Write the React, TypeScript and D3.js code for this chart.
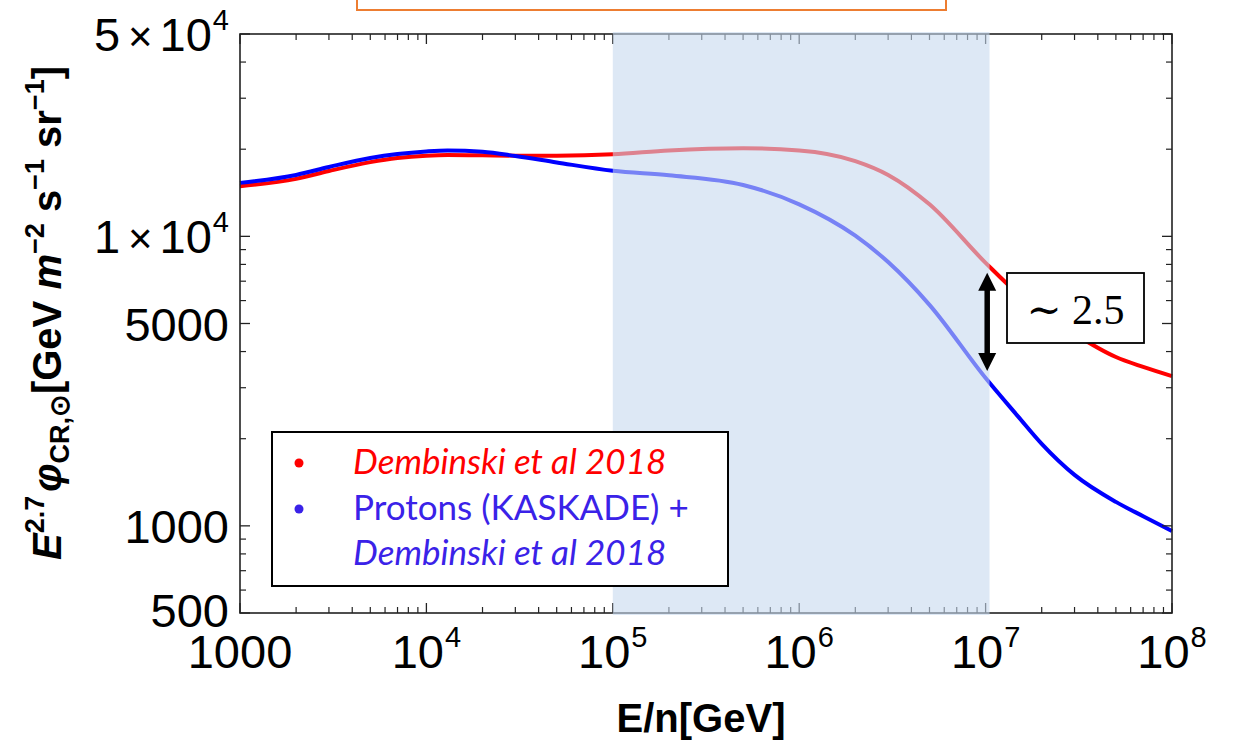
import React from 'react';
import * as d3 from 'd3';

// Energy per nucleon grid (GeV) and E^2.7-weighted flux for both models
const energies = [
  1e3, 2e3, 3e3, 5e3, 7e3, 1e4, 1.3e4, 2e4, 3e4, 5e4, 1e5, 2e5, 5e5, 1e6, 2e6, 3e6, 5e6, 1e7, 1.5e7, 2e7, 3e7, 5e7, 7e7, 1e8,
];
const dembinski = [
  14900, 15800, 16820, 18050, 18650, 19000, 19100, 19050, 19000, 19000, 19200, 19800, 20150, 19800, 18200, 16300, 12900, 8100, 6320, 5480, 4600, 3830, 3540, 3290,
];
const protonsKascade = [
  15300, 16300, 17360, 18650, 19250, 19650, 19800, 19600, 18950, 18000, 16850, 16250, 15050, 12900, 10050, 8150, 5800, 3240, 2380, 1920, 1500, 1210, 1080, 960,
];

// Axis ticks
const xMajor = [1e3, 1e4, 1e5, 1e6, 1e7, 1e8];
const xMajorLabels = [
  { base: '1000', exp: '' },
  { base: '10', exp: '4' },
  { base: '10', exp: '5' },
  { base: '10', exp: '6' },
  { base: '10', exp: '7' },
  { base: '10', exp: '8' },
];
const yMajor = [500, 1000, 5000, 1e4, 5e4];
const yMajorLabels = [
  { mant: '', base: '500', exp: '' },
  { mant: '', base: '1000', exp: '' },
  { mant: '', base: '5000', exp: '' },
  { mant: '1', base: '10', exp: '4' },
  { mant: '5', base: '10', exp: '4' },
];

// Highlighted energy window and ratio annotation
const bandRange = [1e5, 1.05e7];
const ratioAt = 1.02e7;
const ratioLabel = '∼ 2.5';

const legendItems = [
  { lines: [{ text: 'Dembinski et al 2018', italic: true }], color: '#ff0000' },
  {
    lines: [
      { text: 'Protons (KASKADE) +', italic: false },
      { text: 'Dembinski et al 2018', italic: true },
    ],
    color: '#3a22e8',
  },
];

const W = 1237;
const H = 745;
const left = 240;
const right = 1172;
const top = 34;
const bottom = 613;

export default function App() {
  const x = d3.scaleLog().domain([1e3, 1e8]).range([left, right]);
  const y = d3.scaleLog().domain([500, 5e4]).range([bottom, top]);

  const line = d3
    .line<number>()
    .x((_, i) => x(energies[i]))
    .y((d) => y(d))
    .curve(d3.curveMonotoneX);

  const xMinor: number[] = [];
  for (let d = 3; d < 8; d++) {
    for (let k = 2; k <= 9; k++) xMinor.push(k * Math.pow(10, d));
  }
  const yMinor: number[] = [];
  [100, 1000, 10000].forEach((dec) => {
    for (let k = 1; k <= 9; k++) {
      const v = k * dec;
      if (v > 500 && v < 5e4 && !yMajor.includes(v)) yMinor.push(v);
    }
  });

  const major = 10;
  const minor = 6;
  const frameColor = '#222';
  const tickFont = 'Liberation Sans, Arial, sans-serif';

  const ri = energies.indexOf(1e7);
  const arrowX = x(ratioAt);
  const arrowTop = y(dembinski[ri]) + 10;
  const arrowBot = y(protonsKascade[ri]) - 7;

  const legendX = 272;
  const legendY = 432;
  const legendW = 456;
  const legendH = 154;

  return (
    <svg width={W} height={H} style={{ position: 'absolute', left: 0, top: 0, background: '#fff' }}>
      {/* orange frame peeking in at the top */}
      <rect x={357} y={-4} width={589} height={14} fill="none" stroke="#ed7d31" strokeWidth={2} />

      {/* curves */}
      <path d={line(dembinski) || ''} fill="none" stroke="#ff0000" strokeWidth={4} />
      <path d={line(protonsKascade) || ''} fill="none" stroke="#0000ff" strokeWidth={4} />

      {/* frame */}
      <rect x={left} y={top} width={right - left} height={bottom - top} fill="none" stroke={frameColor} strokeWidth={1.6} />
      {xMajor.map((v) => (
        <g key={'xM' + v} stroke={frameColor} strokeWidth={1.3}>
          <line x1={x(v)} x2={x(v)} y1={bottom} y2={bottom - major} />
          <line x1={x(v)} x2={x(v)} y1={top} y2={top + major} />
        </g>
      ))}
      {xMinor.map((v) => (
        <g key={'xm' + v} stroke={frameColor} strokeWidth={1.2}>
          <line x1={x(v)} x2={x(v)} y1={bottom} y2={bottom - minor} />
          <line x1={x(v)} x2={x(v)} y1={top} y2={top + minor} />
        </g>
      ))}
      {yMajor.map((v) => (
        <g key={'yM' + v} stroke={frameColor} strokeWidth={1.3}>
          <line x1={left} x2={left + major} y1={y(v)} y2={y(v)} />
          <line x1={right} x2={right - major} y1={y(v)} y2={y(v)} />
        </g>
      ))}
      {yMinor.map((v) => (
        <g key={'ym' + v} stroke={frameColor} strokeWidth={1.2}>
          <line x1={left} x2={left + minor} y1={y(v)} y2={y(v)} />
          <line x1={right} x2={right - minor} y1={y(v)} y2={y(v)} />
        </g>
      ))}

      {/* x tick labels */}
      {xMajor.map((v, i) => (
        <text key={'xl' + v} x={x(v)} y={668} textAnchor="middle" fontFamily={tickFont} fontSize={47} fill="#000">
          {xMajorLabels[i].base}
          {xMajorLabels[i].exp && (
            <tspan dy={-21} dx={1} fontSize={29}>
              {xMajorLabels[i].exp}
            </tspan>
          )}
        </text>
      ))}

      {/* y tick labels */}
      {yMajor.map((v, i) => {
        const lab = yMajorLabels[i];
        const off = v === 500 ? 14 : 17;
        return (
          <text key={'yl' + v} x={229} y={y(v) + off} textAnchor="end" fontFamily={tickFont} fontSize={47} fill="#000">
            {lab.mant && <tspan>{lab.mant}</tspan>}
            {lab.mant && <tspan dx={8} fontSize={42}>×</tspan>}
            <tspan dx={lab.mant ? 7 : 0}>{lab.base}</tspan>
            {lab.exp && (
              <tspan dy={-21} dx={1} fontSize={29}>
                {lab.exp}
              </tspan>
            )}
          </text>
        );
      })}

      {/* axis titles */}
      <text x={701} y={732} textAnchor="middle" fontFamily={tickFont} fontWeight="bold" fontSize={40} fill="#000">
        E/n[GeV]
      </text>
      <text
        transform="translate(61,313) rotate(-90)"
        textAnchor="middle"
        fontFamily={tickFont}
        fontWeight="bold"
        fontSize={40}
        fill="#000"
      >
        <tspan fontStyle="italic">E</tspan>
        <tspan dy={-17} fontSize={27}>2.7</tspan>
        <tspan dy={17} dx={4} fontStyle="italic">φ</tspan>
        <tspan dy={8} fontSize={27}>CR,⊙</tspan>
        <tspan dy={-8}>[GeV </tspan>
        <tspan fontStyle="italic">m</tspan>
        <tspan dy={-17} fontSize={27}>−2</tspan>
        <tspan dy={17}> s</tspan>
        <tspan dy={-17} fontSize={27}>−1</tspan>
        <tspan dy={17}> sr</tspan>
        <tspan dy={-17} fontSize={27}>−1</tspan>
        <tspan dy={17}>]</tspan>
      </text>

      {/* highlighted window, drawn translucent over the curves */}
      <rect
        x={x(bandRange[0])}
        y={top - 2}
        width={x(bandRange[1]) - x(bandRange[0])}
        height={bottom - top + 4}
        fill="#c7d8ee"
        fillOpacity={0.6}
      />

      {/* legend */}
      <rect x={legendX} y={legendY} width={legendW} height={legendH} fill="#fff" stroke="#000" strokeWidth={2} />
      {legendItems.map((item, i) => {
        const baseY = i === 0 ? 474 : 520;
        return (
          <g key={'lg' + i}>
            <circle cx={299} cy={baseY - 11} r={4.5} fill={item.color} />
            {item.lines.map((ln, j) => (
              <text
                key={j}
                x={353}
                y={baseY + j * 45}
                fontFamily="Lato, 'Open Sans', sans-serif"
                fontSize={35}
                fontStyle={ln.italic ? 'italic' : 'normal'}
                fill={item.color}
              >
                {ln.text}
              </text>
            ))}
          </g>
        );
      })}

      {/* ratio annotation */}
      <line x1={arrowX} x2={arrowX} y1={arrowTop + 14} y2={arrowBot - 14} stroke="#000" strokeWidth={5.5} />
      <path d={`M${arrowX},${arrowTop} L${arrowX - 9},${arrowTop + 18} L${arrowX + 9},${arrowTop + 18} Z`} fill="#000" />
      <path d={`M${arrowX},${arrowBot} L${arrowX - 9},${arrowBot - 18} L${arrowX + 9},${arrowBot - 18} Z`} fill="#000" />
      <rect x={1007} y={273} width={137} height={70} fill="#fff" stroke="#000" strokeWidth={1.8} />
      <text x={1075.5} y={324} textAnchor="middle" fontFamily="'Liberation Serif', 'DejaVu Serif', serif" fontSize={42} fill="#000">
        {ratioLabel}
      </text>
    </svg>
  );
}
